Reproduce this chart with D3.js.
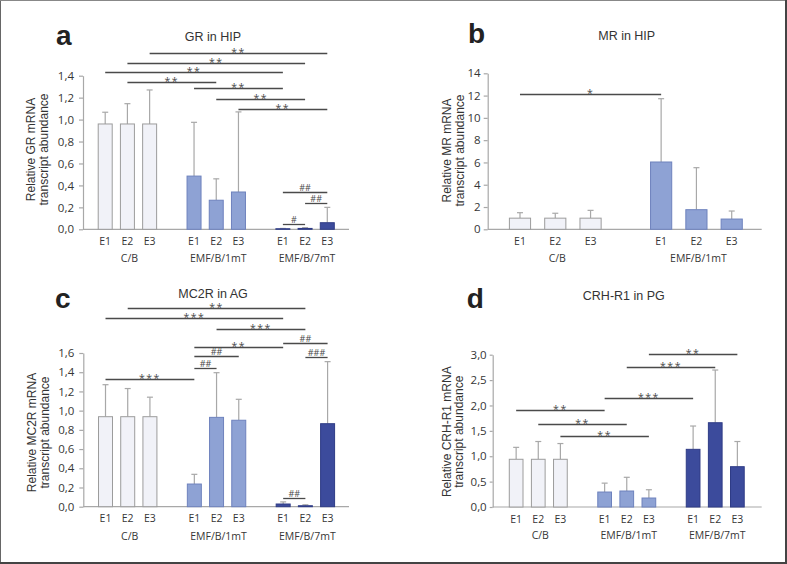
<!DOCTYPE html>
<html><head><meta charset="utf-8">
<script src="https://cdn.jsdelivr.net/npm/d3@7"></script>
<style>
html,body{margin:0;padding:0;background:#fff;}
svg{display:block;}
</style></head>
<body>
<svg id="fig" width="787" height="564"></svg>
<script>
// ---------- DATA ----------
const exposures = ["E1", "E2", "E3"];
const groupsABCD = ["C/B", "EMF/B/1mT", "EMF/B/7mT"];
const groupsB = ["C/B", "EMF/B/1mT"];

// Panel a: GR in HIP
const grMeans = [0.96, 0.96, 0.96, 0.485, 0.265, 0.34, 0.005, 0.008, 0.06];
const grSD    = [0.107, 0.185, 0.31, 0.49, 0.195, 0.73, 0.003, 0.007, 0.14];
const grTicks = [0, 0.2, 0.4, 0.6, 0.8, 1.0, 1.2, 1.4];
// significance: [fromSlot, toSlot, level, label]
const grSig = [
  [2, 10, 1.604, "**"], [1, 9, 1.519, "**"], [0, 8, 1.431, "**"],
  [1, 5, 1.343, "**"], [4, 8, 1.291, "**"], [5, 9, 1.185, "**"],
  [6, 10, 1.097, "**"], [8, 10, 0.340, "##"], [9, 10, 0.240, "##"],
  [8, 9, 0.051, "#"]
];

// Panel b: MR in HIP
const mrMeans = [1.0, 1.0, 1.0, 6.04, 1.76, 0.92];
const mrSD    = [0.49, 0.44, 0.7, 5.68, 3.77, 0.72];
const mrTicks = [0, 2, 4, 6, 8, 10, 12, 14];
const mrSig = [[0, 4, 12.14, "*"]];

// Panel c: MC2R in AG
const mc2rMeans = [0.937, 0.937, 0.937, 0.236, 0.93, 0.90, 0.028, 0.01, 0.864];
const mc2rSD    = [0.333, 0.293, 0.203, 0.101, 0.465, 0.218, 0.022, 0.01, 0.646];
const mc2rTicks = [0, 0.2, 0.4, 0.6, 0.8, 1.0, 1.2, 1.4, 1.6];
const mc2rSig = [
  [1, 9, 2.071, "**"], [0, 8, 1.961, "***"], [5, 9, 1.847, "***"],
  [8, 10, 1.707, "##"], [4, 8, 1.665, "**"], [4, 6, 1.566, "##"],
  [9, 10, 1.558, "###"], [4, 5, 1.441, "##"], [0, 4, 1.329, "***"],
  [8, 9, 0.094, "##"]
];

// Panel d: CRH-R1 in PG
const crhMeans = [0.94, 0.94, 0.94, 0.295, 0.315, 0.177, 1.136, 1.66, 0.794];
const crhSD    = [0.235, 0.35, 0.31, 0.175, 0.27, 0.163, 0.459, 1.038, 0.496];
const crhTicks = [0, 0.5, 1.0, 1.5, 2.0, 2.5, 3.0];
const crhSig = [
  [6, 10, 3.013, "**"], [5, 9, 2.763, "***"], [4, 8, 2.147, "***"],
  [0, 4, 1.910, "**"], [1, 5, 1.634, "**"], [2, 6, 1.398, "**"]
];

// ---------- STYLE ----------
const groupFill   = ["#f1f2f8", "#8ea2d4", "#3c4b9c"];
const groupStroke = ["#9c9c9c", "#6e82bd", "#2f3c86"];
const axisColor = "#a8a8a8";
const textColor = "#363636";
const sigColor = "#4a4a4a";

const svg = d3.select("#fig");

// frame
svg.append("line").attr("x1", 0.5).attr("x2", 0.5).attr("y1", 0).attr("y2", 564).attr("stroke", "#666").attr("stroke-width", 1);
svg.append("line").attr("x1", 0).attr("x2", 787).attr("y1", 0.5).attr("y2", 0.5).attr("stroke", "#888").attr("stroke-width", 1);
svg.append("line").attr("x1", 786).attr("x2", 786).attr("y1", 0).attr("y2", 564).attr("stroke", "#444").attr("stroke-width", 2);
svg.append("line").attr("x1", 0).attr("x2", 787).attr("y1", 563).attr("y2", 563).attr("stroke", "#444").attr("stroke-width", 2);

const fmtComma = d => d3.format(".1f")(d).replace(".", ",");
const fmtInt = d => d3.format("d")(d);

function drawPanel(p) {
  const g = svg.append("g");
  const y = d3.scaleLinear().domain([0, p.yMax]).range([p.y0, p.yTop]);
  const x = d3.scaleLinear().domain(p.xDomain).range([p.x0, p.x1]);
  const step = x(1) - x(0);
  const bw = step * p.barFrac;

  // x axis baseline
  g.append("line").attr("x1", p.x0).attr("x2", p.axisEnd)
    .attr("y1", y(0)).attr("y2", y(0)).attr("stroke", axisColor).attr("stroke-width", 1.2);

  // y axis
  const ax = g.append("g").attr("transform", `translate(${p.x0},0)`)
    .call(d3.axisLeft(y).tickValues(p.ticks).tickFormat(p.fmt)
      .tickSize(p.tickSize).tickSizeOuter(0).tickPadding(p.tickPad));
  ax.select(".domain").attr("stroke", axisColor).attr("stroke-width", 1.2);
  ax.selectAll(".tick line").attr("stroke", axisColor).attr("stroke-width", 1.2);
  ax.selectAll(".tick text").attr("fill", textColor)
    .style("font-family", "'Open Sans', sans-serif").style("font-size", "11.5px");

  const slots = p.means.map((m, i) => ({ m, sd: p.sd[i], grp: Math.floor(i / 3), slot: Math.floor(i / 3) * 4 + (i % 3), lab: exposures[i % 3] }));

  // error bars (upper only)
  const eb = g.append("g");
  slots.forEach(d => {
    const cx = x(d.slot);
    eb.append("line").attr("x1", cx).attr("x2", cx).attr("y1", y(d.m)).attr("y2", y(d.m + d.sd))
      .attr("stroke", axisColor).attr("stroke-width", 1.2);
    eb.append("line").attr("x1", cx - 3).attr("x2", cx + 3).attr("y1", y(d.m + d.sd)).attr("y2", y(d.m + d.sd))
      .attr("stroke", axisColor).attr("stroke-width", 1.2);
  });

  // bars
  g.append("g").selectAll("rect").data(slots).join("rect")
    .attr("x", d => x(d.slot) - bw / 2)
    .attr("y", d => y(d.m))
    .attr("width", bw)
    .attr("height", d => y(0) - y(d.m))
    .attr("fill", d => groupFill[d.grp])
    .attr("stroke", d => groupStroke[d.grp])
    .attr("stroke-width", 1);

  // x labels
  g.append("g").selectAll("text").data(slots).join("text")
    .attr("x", d => x(d.slot)).attr("y", p.xLabY)
    .attr("text-anchor", "middle").attr("fill", textColor)
    .style("font-family", "'Open Sans', sans-serif").style("font-size", "10.5px")
    .text(d => d.lab);
  g.append("g").selectAll("text").data(p.groups).join("text")
    .attr("x", (d, i) => x(i * 4 + 1) + 2).attr("y", p.grpLabY)
    .attr("text-anchor", "middle").attr("fill", textColor)
    .style("font-family", "'Open Sans', sans-serif").style("font-size", "10.5px")
    .text(d => d);

  // significance brackets
  const sg = g.append("g");
  p.sig.forEach(s => {
    const xa = x(s[0]), xb = x(s[1]), yy = Math.round(y(s[2])) + 0.5;
    sg.append("line").attr("x1", xa).attr("x2", xb).attr("y1", yy).attr("y2", yy)
      .attr("stroke", sigColor).attr("stroke-width", 1.3);
    const isHash = s[3][0] === "#";
    sg.append("text").attr("x", (xa + xb) / 2).attr("y", isHash ? yy - 2 : yy + 2.5)
      .attr("text-anchor", "middle").attr("fill", sigColor)
      .style("font-family", "'Open Sans', sans-serif")
      .style("font-size", isHash ? "9px" : "10.5px")
      .style("letter-spacing", isHash ? "0px" : "1.5px")
      .text(s[3]);
  });

  // title
  g.append("text").attr("x", p.titleX).attr("y", p.titleY).attr("text-anchor", "middle")
    .attr("fill", "#333").style("font-family", "'Liberation Sans', Arial, sans-serif")
    .style("font-size", "12.5px").text(p.title);
  // panel letter
  g.append("text").attr("x", p.letterX).attr("y", p.letterY)
    .attr("fill", "#222").style("font-family", "'Liberation Sans', Arial, sans-serif")
    .style("font-size", "28px").style("font-weight", "bold").text(p.letter);
  // y label (two lines)
  p.yLab.forEach((t, i) => {
    g.append("text")
      .attr("transform", `translate(${p.yLabX[i]},${p.yLabCY}) rotate(-90)`)
      .attr("text-anchor", "middle").attr("fill", "#333")
      .style("font-family", "'Liberation Sans', Arial, sans-serif").style("font-size", "12px")
      .text(t);
  });
}

drawPanel({
  letter: "a", letterX: 56, letterY: 45, title: "GR in HIP", titleX: 213, titleY: 40.5,
  means: grMeans, sd: grSD, ticks: grTicks, sig: grSig, groups: groupsABCD, fmt: fmtComma,
  yMax: 1.4, y0: 229.3, yTop: 75.7, x0: 83, x1: 349.5, axisEnd: 349, xDomain: [-1, 11],
  barFrac: 0.63, tickSize: 4, tickPad: 5, xLabY: 244.5, grpLabY: 261.5,
  yLab: ["Relative GR mRNA", "transcript abundance"], yLabX: [35, 47.5], yLabCY: 149.5
});
drawPanel({
  letter: "b", letterX: 468, letterY: 43, title: "MR in HIP", titleX: 626.7, titleY: 40,
  means: mrMeans, sd: mrSD, ticks: mrTicks, sig: mrSig, groups: groupsB, fmt: fmtInt,
  yMax: 14, y0: 229.3, yTop: 73.3, x0: 487.7, x1: 761.7, axisEnd: 761.7, xDomain: [-0.915, 6.85],
  barFrac: 0.6, tickSize: 4, tickPad: 3, xLabY: 244.5, grpLabY: 261.5,
  yLab: ["Relative MR mRNA", "transcript abundance"], yLabX: [450.5, 463.5], yLabCY: 150.5
});
drawPanel({
  letter: "c", letterX: 55, letterY: 308, title: "MC2R in AG", titleX: 213, titleY: 298.3,
  means: mc2rMeans, sd: mc2rSD, ticks: mc2rTicks, sig: mc2rSig, groups: groupsABCD, fmt: fmtComma,
  yMax: 1.6, y0: 506.7, yTop: 353, x0: 83.3, x1: 349.8, axisEnd: 349, xDomain: [-1, 11],
  barFrac: 0.63, tickSize: 4, tickPad: 5, xLabY: 522, grpLabY: 539.5,
  yLab: ["Relative MC2R mRNA", "transcript abundance"], yLabX: [36, 48.5], yLabCY: 432.5
});
drawPanel({
  letter: "d", letterX: 466.7, letterY: 308, title: "CRH-R1 in PG", titleX: 623.8, titleY: 300,
  means: crhMeans, sd: crhSD, ticks: crhTicks, sig: crhSig, groups: groupsABCD, fmt: fmtComma,
  yMax: 3.0, y0: 507, yTop: 354.7, x0: 492.7, x1: 761.7, axisEnd: 761.7, xDomain: [-1.06, 11.1],
  barFrac: 0.62, tickSize: 3, tickPad: 3, xLabY: 522.5, grpLabY: 539,
  yLab: ["Relative CRH-R1 mRNA", "transcript abundance"], yLabX: [450.5, 462.5], yLabCY: 431.7
});
</script>
</body></html>
